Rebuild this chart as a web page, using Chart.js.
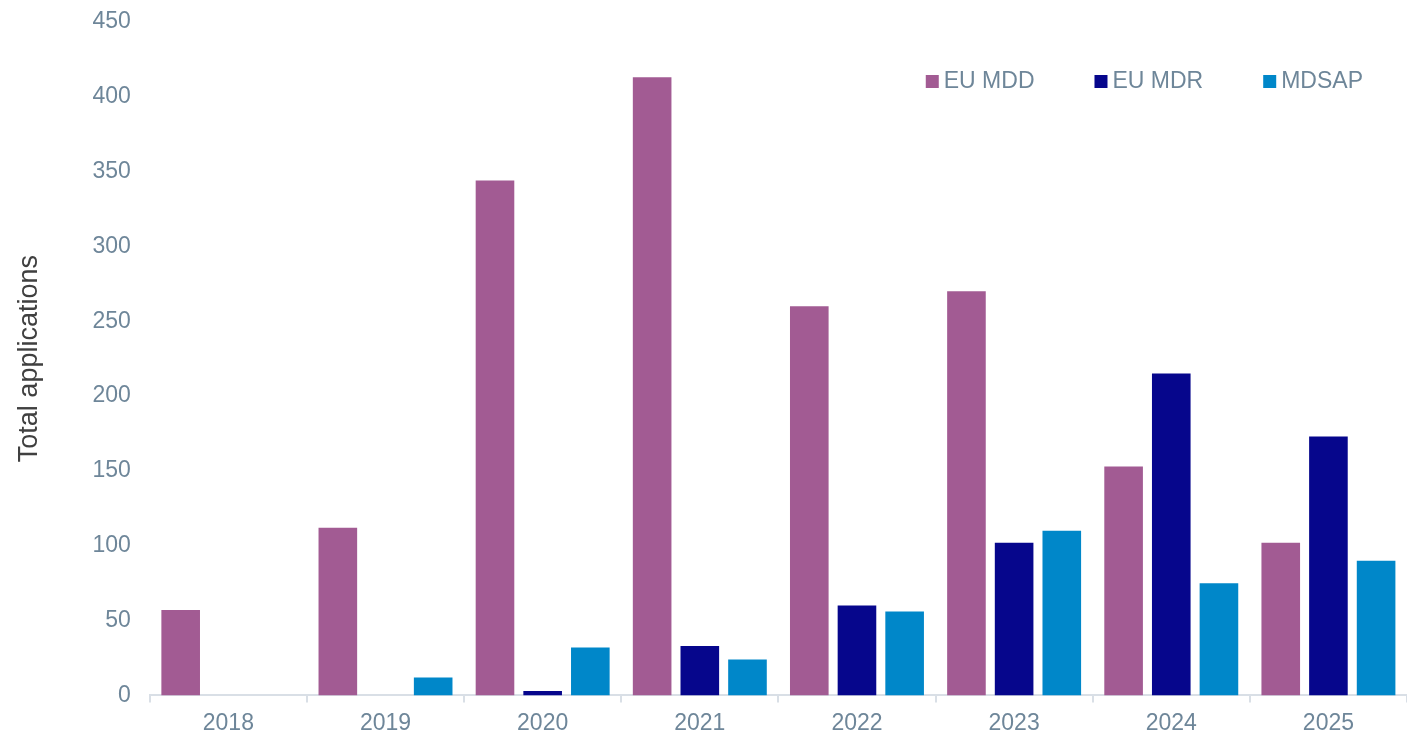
<!DOCTYPE html>
<html>
<head>
<meta charset="utf-8">
<script src="https://cdn.jsdelivr.net/npm/chart.js@4/dist/chart.umd.min.js"></script>
<style>
  html, body { margin: 0; padding: 0; background: #fff; overflow: hidden; }
  #wrap { width: 1407px; height: 743px; margin-top: -3px; }
</style>
</head>
<body>
<div id="wrap"><canvas id="appChart"></canvas></div>
<script>
const years = ["2018", "2019", "2020", "2021", "2022", "2023", "2024", "2025"];
const euMdd = [57, 112, 344, 413, 260, 270, 153, 102];
const euMdr = [0, 0, 3, 33, 60, 102, 215, 173];
const mdsap = [0, 12, 32, 24, 56, 110, 75, 90];
const yTicks = [0, 50, 100, 150, 200, 250, 300, 350, 400, 450];

const TICK_COLOR = "#6e8699";
const FONT = "'Liberation Sans', Arial, sans-serif";

// legend sits inside the plot, top right, so draw it ourselves
const insideLegend = {
    id: "insideLegend",
    afterDraw(chart) {
        const c = chart.ctx;
        const box = 13, gapText = 5, gapItem = 60;
        c.save();
        c.font = "23px " + FONT;
        c.textBaseline = "middle";
        const items = chart.data.datasets.map(ds => ({
            label: ds.label,
            color: ds.backgroundColor,
            w: box + gapText + c.measureText(ds.label).width
        }));
        const total = items.reduce((s, it) => s + it.w, 0) + gapItem * (items.length - 1);
        let x = chart.chartArea.right - 44 - total;
        const y = 85;
        items.forEach(it => {
            c.fillStyle = it.color;
            c.fillRect(x, y - 7, box, box);
            c.fillStyle = TICK_COLOR;
            c.fillText(it.label, x + box + gapText, y);
            x += it.w + gapItem;
        });
        c.restore();
    }
};

const ctx = document.getElementById("appChart").getContext("2d");
const chart = new Chart(ctx, {
    type: "bar",
    data: {
        labels: years,
        datasets: [
            { label: "EU MDD", data: euMdd, backgroundColor: "#a25b93" },
            { label: "EU MDR", data: euMdr, backgroundColor: "#06068c" },
            { label: "MDSAP", data: mdsap, backgroundColor: "#0087c9" }
        ]
    },
    plugins: [insideLegend],
    options: {
        responsive: true,
        maintainAspectRatio: false,
        animation: false,
        datasets: {
            bar: { categoryPercentage: 0.91, barPercentage: 0.81 }
        },
        layout: { padding: { top: 0, right: 0, bottom: -4, left: 13 } },
        plugins: {
            tooltip: { enabled: false },
            legend: { display: false }
        },
        scales: {
            x: {
                grid: {
                    display: true,
                    drawOnChartArea: false,
                    drawTicks: true,
                    tickLength: 7,
                    color: "#d9dfe6",
                    lineWidth: 2
                },
                border: { display: true, color: "#d9dfe6", width: 2 },
                ticks: {
                    color: TICK_COLOR,
                    padding: 7,
                    font: { family: FONT, size: 23 }
                }
            },
            y: {
                min: 0,
                max: 450,
                afterBuildTicks: axis => { axis.ticks = yTicks.map(v => ({ value: v })); },
                grid: { display: false },
                border: { display: false },
                ticks: {
                    color: TICK_COLOR,
                    padding: 11,
                    font: { family: FONT, size: 23 }
                },
                title: {
                    display: true,
                    text: "Total applications",
                    color: "#404040",
                    padding: { top: 0, bottom: 36 },
                    font: { family: FONT, size: 27 }
                }
            }
        }
    }
});
</script>
</body>
</html>
